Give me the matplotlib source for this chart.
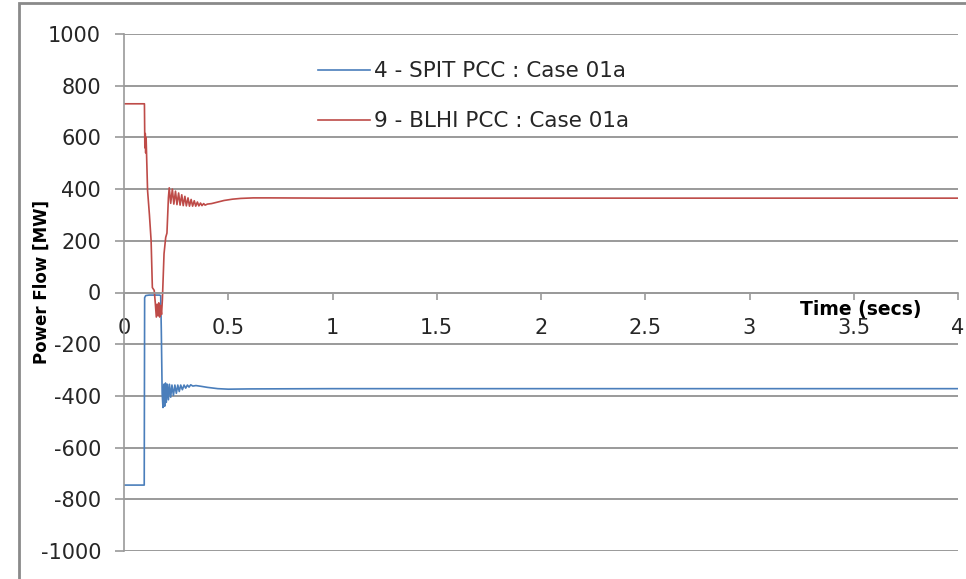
import matplotlib
matplotlib.use("Agg")
from matplotlib import pyplot as plt
from matplotlib.patches import Rectangle

plt.rcParams["axes.unicode_minus"] = False

# time axis (secs) and power flow (MW) at the two PCC buses
t_spit = [0.0, 0.097, 0.099, 0.104, 0.12, 0.15, 0.170, 0.176, 0.179, 0.183, 0.187,
          0.191, 0.195, 0.199, 0.203, 0.208, 0.213, 0.218, 0.224, 0.230, 0.237,
          0.244, 0.251, 0.258, 0.265, 0.272, 0.280, 0.288, 0.296, 0.304, 0.312,
          0.320, 0.330, 0.345, 0.37, 0.40, 0.45, 0.50, 0.60, 1.0, 2.0, 3.0, 4.0]
p_spit = [-745, -745, -20, -12, -10, -10, -10, -12, -150, -390, -445,
          -355, -440, -350, -425, -355, -415, -355, -405, -358, -398,
          -358, -390, -358, -383, -358, -376, -358, -370, -358, -366,
          -357, -362, -360, -363, -367, -372, -374, -373, -372, -372, -372, -372]

t_blhi = [0.0, 0.098, 0.100, 0.102, 0.104, 0.106, 0.113, 0.122, 0.130, 0.136,
          0.145, 0.150, 0.155, 0.159, 0.163, 0.167, 0.171, 0.175, 0.180, 0.184,
          0.192, 0.200, 0.206, 0.213, 0.217, 0.224, 0.232, 0.239, 0.247, 0.254,
          0.262, 0.269, 0.277, 0.284, 0.292, 0.299, 0.307, 0.314, 0.322, 0.329,
          0.337, 0.344, 0.352, 0.359, 0.367, 0.374, 0.382, 0.389, 0.40, 0.42,
          0.45, 0.48, 0.52, 0.56, 0.62, 0.70, 1.0, 2.0, 3.0, 4.0]
p_blhi = [730, 730, 560, 615, 540, 600, 395, 300, 201, 19,
          8, -40, -95, -45, -90, -40, -95, -50, -85, -30,
          150, 213, 230, 367, 405, 345, 400, 342, 392, 340,
          385, 338, 378, 336, 372, 335, 366, 334, 360, 334,
          355, 334, 350, 335, 346, 336, 344, 338, 342, 344,
          350, 356, 361, 364, 366, 366, 365, 365, 365, 365]

x_ticks = [0, 0.5, 1, 1.5, 2, 2.5, 3, 3.5, 4]
x_labels = ["0", "0.5", "1", "1.5", "2", "2.5", "3", "3.5", "4"]
y_ticks = list(range(-1000, 1001, 200))

blue = "#4a7ebb"
red = "#be4b48"
grey = "#9a9a9a"

fig = plt.figure(figsize=(9.66, 5.79), dpi=100)
ax = fig.add_axes([124 / 966, 1 - 551 / 579, 834 / 966, 517 / 579])

ax.plot(t_spit, p_spit, color=blue, lw=1.2, label="4 - SPIT PCC : Case 01a")
ax.plot(t_blhi, p_blhi, color=red, lw=1.2, label="9 - BLHI PCC : Case 01a")

ax.set_xlim(0, 4)
ax.set_ylim(-1000, 1000)
ax.set_yticks(y_ticks)
ax.set_xticks(x_ticks)
ax.set_xticklabels(x_labels)
ax.yaxis.grid(True, color=grey, lw=1.4)
ax.set_axisbelow(True)

for side in ["top", "right"]:
    ax.spines[side].set_visible(False)
ax.spines["bottom"].set_position(("data", 0))
ax.spines["bottom"].set_color(grey)
ax.spines["left"].set_color(grey)
ax.spines["bottom"].set_linewidth(1.2)
ax.spines["left"].set_linewidth(1.2)

ax.tick_params(axis="y", length=6.5, width=1.2, color=grey, pad=10,
               labelsize=15, labelcolor="#262626")
ax.tick_params(axis="x", length=5, width=1.2, color=grey, pad=13,
               labelsize=15, labelcolor="#262626")

ax.set_ylabel("Power Flow [MW]", fontsize=12, fontweight="bold", labelpad=2)
ax.yaxis.set_label_coords(-0.088, 0.52)
ax.text(3.535, -65, "Time (secs)", fontsize=13.5, fontweight="bold",
        ha="center", va="center")

leg = ax.legend(loc="upper left", bbox_to_anchor=(0.2326, 0.947), frameon=False,
                fontsize=15.5, handlelength=2.4, handletextpad=0.2,
                labelspacing=1.38, borderaxespad=0, borderpad=0)
for txt in leg.get_texts():
    txt.set_color("#262626")

# chart area border
fig.patches.append(Rectangle((19 / 966, -0.1), 1.0, 1.1 - 3 / 579,
                             transform=fig.transFigure, fill=False,
                             edgecolor="#8a8a8a", lw=2.0))

fig.savefig("out.png", dpi=100)
